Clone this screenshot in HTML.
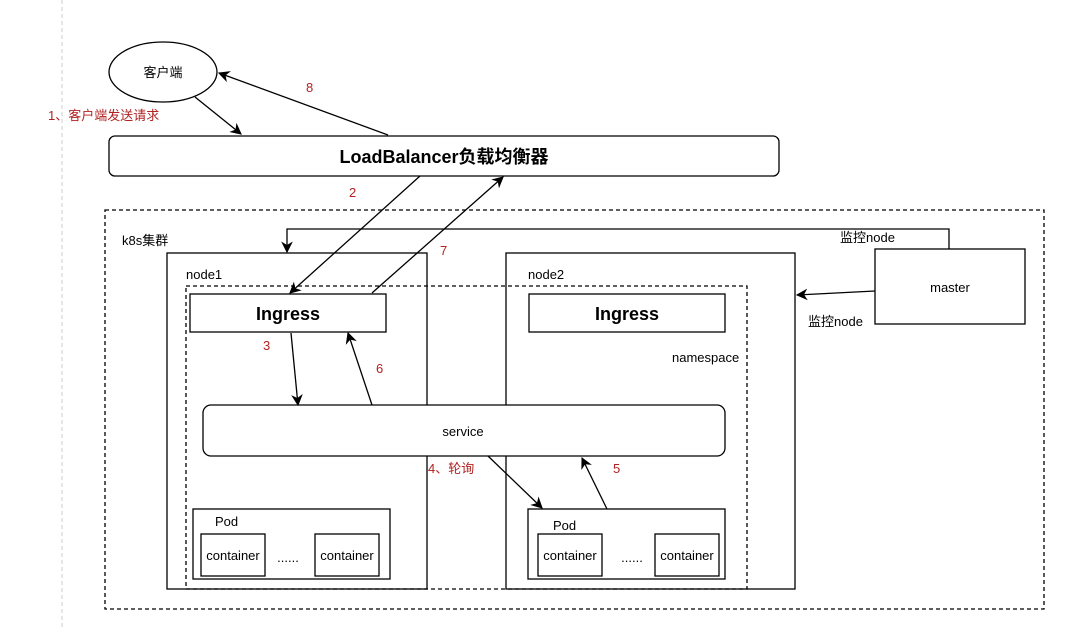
<!DOCTYPE html>
<html><head><meta charset="utf-8"><style>
html,body{margin:0;padding:0;background:#fff}
svg{display:block}
text{font-family:"Liberation Sans","Noto Sans CJK SC",sans-serif}
</style></head><body>
<svg width="1070" height="630" viewBox="0 0 1070 630" xmlns="http://www.w3.org/2000/svg">
<defs><marker id="a" viewBox="0 0 10 10" refX="9" refY="5" markerWidth="9" markerHeight="9" orient="auto"><path d="M0,0 L10,5 L0,10 L3,5 z" fill="#000"/></marker></defs>
<line x1="62" y1="0" x2="62" y2="630" stroke="#ccc" stroke-dasharray="4,3"/>
<g fill="none" stroke="#000" stroke-width="1.3">
<ellipse cx="163" cy="72" rx="54" ry="30" fill="#fff"/>
<rect x="109" y="136" width="670" height="40" rx="6" fill="#fff"/>
<rect x="105" y="210" width="939" height="399" stroke-dasharray="4,3"/>
<rect x="167" y="253" width="260" height="336"/>
<rect x="506" y="253" width="289" height="336"/>
<rect x="186" y="286" width="561" height="303" stroke-dasharray="4,3"/>
<rect x="190" y="294" width="196" height="38" fill="#fff"/>
<rect x="529" y="294" width="196" height="38" fill="#fff"/>
<rect x="203" y="405" width="522" height="51" rx="8" fill="#fff"/>
<rect x="193" y="509" width="197" height="70" fill="#fff"/>
<rect x="201" y="534" width="64" height="42"/>
<rect x="315" y="534" width="64" height="42"/>
<rect x="528" y="509" width="197" height="70" fill="#fff"/>
<rect x="538" y="534" width="64" height="42"/>
<rect x="655" y="534" width="64" height="42"/>
<rect x="875" y="249" width="150" height="75" fill="#fff"/>
<line x1="195" y1="97" x2="241" y2="134" marker-end="url(#a)"/>
<line x1="388" y1="135" x2="219" y2="73" marker-end="url(#a)"/>
<line x1="420" y1="176" x2="290" y2="293" marker-end="url(#a)"/>
<line x1="372" y1="293" x2="503" y2="177" marker-end="url(#a)"/>
<polyline points="949,249 949,229 287,229 287,252" marker-end="url(#a)"/>
<line x1="875" y1="291" x2="797" y2="295" marker-end="url(#a)"/>
<line x1="291" y1="333" x2="298" y2="405" marker-end="url(#a)"/>
<line x1="372" y1="405" x2="348" y2="333" marker-end="url(#a)"/>
<line x1="488" y1="456" x2="542" y2="508" marker-end="url(#a)"/>
<line x1="607" y1="509" x2="582" y2="458" marker-end="url(#a)"/>
</g>
<g font-size="13" fill="#000">
<text x="163" y="77" text-anchor="middle">客户端</text>
<text x="444" y="163" text-anchor="middle" font-size="18" font-weight="bold">LoadBalancer负载均衡器</text>
<text x="122" y="245">k8s集群</text>
<text x="186" y="279">node1</text>
<text x="528" y="279">node2</text>
<text x="288" y="320" text-anchor="middle" font-size="18" font-weight="bold">Ingress</text>
<text x="627" y="320" text-anchor="middle" font-size="18" font-weight="bold">Ingress</text>
<text x="672" y="362">namespace</text>
<text x="463" y="436" text-anchor="middle">service</text>
<text x="215" y="526">Pod</text>
<text x="553" y="530">Pod</text>
<text x="233" y="560" text-anchor="middle">container</text>
<text x="347" y="560" text-anchor="middle">container</text>
<text x="288" y="562" text-anchor="middle">......</text>
<text x="570" y="560" text-anchor="middle">container</text>
<text x="687" y="560" text-anchor="middle">container</text>
<text x="632" y="562" text-anchor="middle">......</text>
<text x="950" y="292" text-anchor="middle">master</text>
<text x="840" y="242">监控node</text>
<text x="808" y="326">监控node</text>
</g>
<g font-size="13" fill="#b22222">
<text x="306" y="92">8</text>
<text x="48" y="120">1、客户端发送请求</text>
<text x="349" y="197">2</text>
<text x="440" y="255">7</text>
<text x="263" y="350">3</text>
<text x="376" y="373">6</text>
<text x="428" y="473">4、轮询</text>
<text x="613" y="473">5</text>
</g>
</svg>
</body></html>
